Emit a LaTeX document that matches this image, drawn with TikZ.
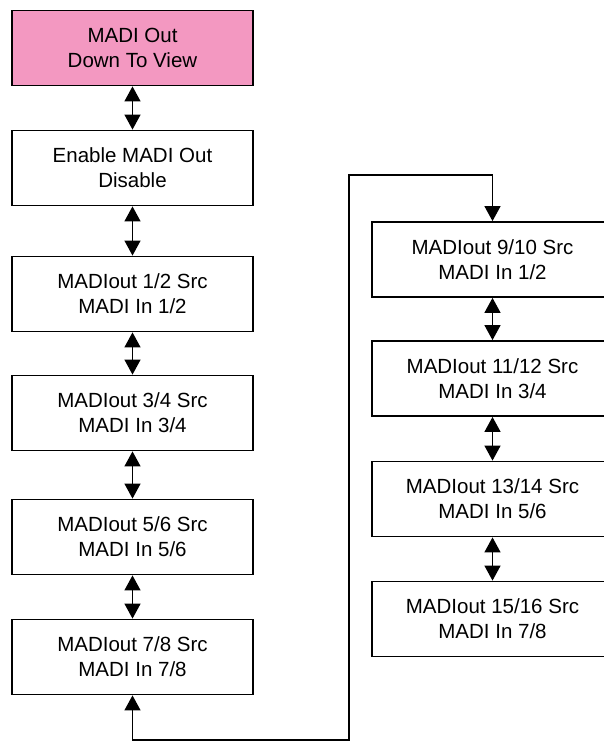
\documentclass[tikz,border=0pt]{standalone}
\usepackage{fontspec}
\setmainfont{Liberation Sans}
\usepackage{tikz}
\usetikzlibrary{arrows.meta}
\definecolor{madipink}{RGB}{243,152,193}

\begin{document}
\begin{tikzpicture}[x=1pt,y=-1pt,
	menu/.style={draw,rectangle,line width=1.8pt,fill=white,minimum width=241pt,minimum height=75pt,align=center,font=\fontsize{20.5}{25}\selectfont},
	link/.style={line width=1.3pt,{Triangle[length=15pt,width=16pt]}-{Triangle[length=15pt,width=16pt]}}]
	\useasboundingbox (0,0) rectangle (604,751);
	
	%LEFT COLUMN
	\node[menu,fill=madipink] (top) at (132.5, 48) {MADI Out\\Down To View};
	\node[menu] (enable) at (132.5,168) {Enable MADI Out\\Disable};
	\node[menu] (out12) at (132.5,294) {MADIout 1/2 Src\\MADI In 1/2};
	\node[menu] (out34) at (132.5,413) {MADIout 3/4 Src\\MADI In 3/4};
	\node[menu] (out56) at (132.5,537) {MADIout 5/6 Src\\MADI In 5/6};
	\node[menu] (out78) at (132.5,657) {MADIout 7/8 Src\\MADI In 7/8};
	
	%RIGHT COLUMN
	\node[menu] (out910) at (492.5,259.5) {MADIout 9/10 Src\\MADI In 1/2};
	\node[menu] (out1112) at (492.5,378.5) {MADIout 11/12 Src\\MADI In 3/4};
	\node[menu] (out1314) at (492.5,499) {MADIout 13/14 Src\\MADI In 5/6};
	\node[menu] (out1516) at (492.5,619) {MADIout 15/16 Src\\MADI In 7/8};
	
	%LEFT ARCS
	\draw[link] (top) -- (enable);
	\draw[link] (enable) -- (out12);
	\draw[link] (out12) -- (out34);
	\draw[link] (out34) -- (out56);
	\draw[link] (out56) -- (out78);
	
	%RIGHT ARCS
	\draw[link] (out910) -- (out1112);
	\draw[link] (out1112) -- (out1314);
	\draw[link] (out1314) -- (out1516);
	
	%WRAP AROUND
	\coordinate (lowturn) at (349,740);
	\coordinate (highturn) at (349,175);
	\draw[link] (out78.south) |- (lowturn) -- (highturn) -| (out910.north);
\end{tikzpicture}
\end{document}
